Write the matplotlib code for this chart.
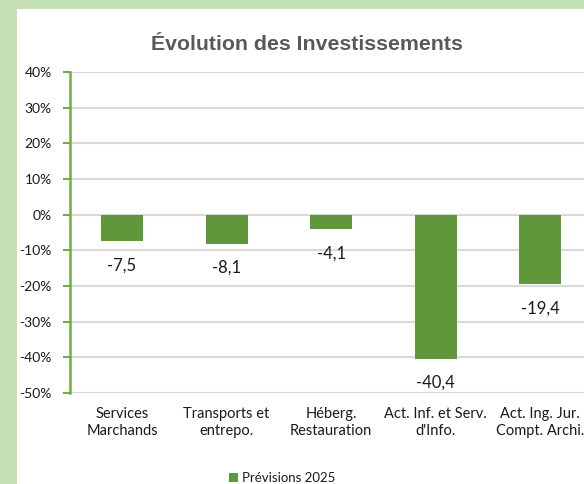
import matplotlib
matplotlib.use("Agg")

import matplotlib.pyplot as plt
from matplotlib.patches import Rectangle
from matplotlib.ticker import FuncFormatter

# ── Data ────────────────────────────────────────────────────────────────
categories = [
    "Services\nMarchands",
    "Transports et\nentrepo.",
    "Héberg.\nRestauration",
    "Act. Inf. et Serv.\nd'Info.",
    "Act. Ing. Jur.\nCompt. Archi.",
]
previsions_2025 = [-7.5, -8.1, -4.1, -40.4, -19.4]
y_ticks = [-50, -40, -30, -20, -10, 0, 10, 20, 30, 40]

# ── Styles ──────────────────────────────────────────────────────────────
BG_GREEN = "#c5e0b4"
BAR_GREEN = "#5f973a"
AXIS_GREEN = "#70ad47"
GRID_GRAY = "#d9d9d9"
TEXT = "#1a1a1a"
FONT = ["Lato", "DejaVu Sans"]

W, H = 584, 484
fig = plt.figure(figsize=(W / 100, H / 100), dpi=100, facecolor=BG_GREEN)
fig.patches.append(Rectangle((17 / W, 0), 1, (H - 9) / H,
                             transform=fig.transFigure,
                             facecolor="white", edgecolor="none", zorder=-5))

ax = fig.add_axes([69.7 / W, 91 / H, 523 / W, 321 / H])
ax.set_facecolor("none")
ax.set_zorder(2)

x = list(range(len(categories)))
ax.bar(x, previsions_2025, width=0.4, color=BAR_GREEN, zorder=3,
       label="Prévisions 2025")

for xi, v in zip(x, previsions_2025):
    ax.annotate(f"{v:.1f}".replace(".", ","), xy=(xi, v),
                xytext=(0, -17.5), textcoords="offset points",
                ha="center", va="center", fontsize=12, color=TEXT,
                family=FONT)

ax.set_xlim(-0.5, len(categories) - 0.5)
ax.set_ylim(-50, 40)
ax.set_yticks(y_ticks)
ax.yaxis.set_major_formatter(FuncFormatter(lambda v, _: f"{v:.0f}%"))
ax.grid(axis="y", color=GRID_GRAY, linewidth=1.5, zorder=0)

ax.set_xticks(x)
ax.set_xticklabels(categories, family=FONT, fontsize=10.5, color=TEXT,
                   linespacing=1.25)
ax.tick_params(axis="x", length=0, pad=10)
ax.tick_params(axis="y", length=5, width=1.5, color=AXIS_GREEN,
               labelsize=10, labelcolor=TEXT, pad=8)
for lbl in ax.get_yticklabels():
    lbl.set_family(FONT)

for side in ("top", "right", "bottom"):
    ax.spines[side].set_visible(False)
ax.spines["left"].set_color(AXIS_GREEN)
ax.spines["left"].set_linewidth(1.8)

fig.text(307 / W, 1 - 44 / H, "Évolution des Investissements",
         ha="center", va="center", fontsize=15.3, fontweight="bold",
         color="#595959", family=["Liberation Sans", "DejaVu Sans"])

fig.legend(loc="center", bbox_to_anchor=(282 / W, 1 - 478 / H),
           frameon=False, prop={"family": FONT, "size": 9.5},
           handlelength=0.7, handleheight=0.7, handletextpad=0.3,
           labelcolor=TEXT)

fig.savefig("out.png", dpi=100, facecolor=BG_GREEN)
